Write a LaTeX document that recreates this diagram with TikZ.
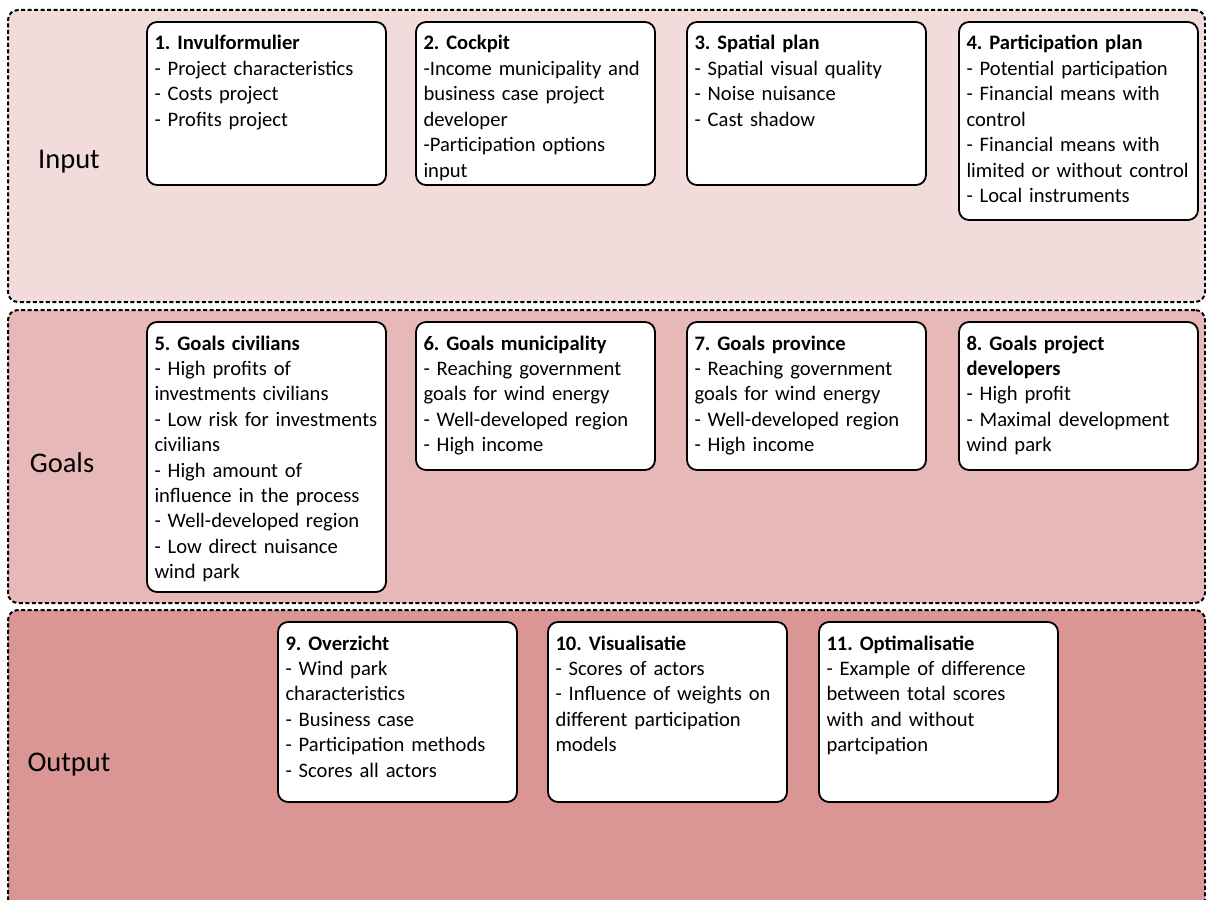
\documentclass[tikz,border=0pt]{standalone}
\usepackage{fontspec}
\setmainfont{Carlito}
\usetikzlibrary{positioning}

\definecolor{inputfill}{HTML}{F2DCDB}
\definecolor{goalsfill}{HTML}{E6B9B8}
\definecolor{outputfill}{HTML}{D99694}

\newcommand{\cardfont}{\fontsize{20.6}{25.4}\selectfont\frenchspacing}

\tikzset{
  band/.style={draw, line width=2pt, dash pattern=on 4pt off 2.5pt,
    rounded corners=10pt, minimum width=1197pt, anchor=north west,
    inner sep=0pt, outer sep=0pt},
  card/.style={draw, fill=white, line width=1.8pt, rounded corners=10pt,
    anchor=north west, text width=224pt, inner xsep=7.5pt, inner ysep=0pt,
    outer sep=0pt, align=left, text height=28pt, text depth=#1, font=\cardfont,
    execute at begin node={\hyphenpenalty=10000\relax\exhyphenpenalty=10000\relax}},
  bandlabel/.style={font=\fontsize{28.5}{30}\selectfont},
}

\begin{document}
\begin{tikzpicture}[x=1pt,y=-1pt]
  \useasboundingbox (0,0) rectangle (1206,899);
  \clip (0,0) rectangle (1206,899);

  % the three layers
  \node[band, fill=inputfill, minimum height=292pt] (inband) at (8,10) {};
  \node[band, fill=goalsfill, minimum height=293pt] (goalband) at (8,310) {};
  \node[band, fill=outputfill, minimum height=300pt] (outband) at (8,610) {};

  \node[bandlabel] (inlabel) at (69,162) {Input};
  \node[bandlabel] (goallabel) at (62,463) {Goals};
  \node[bandlabel] (outlabel) at (69,765) {Output};

  % input
  \node[card=135pt] (c1) at (147,22) {\textbf{1. Invulformulier}\\
    - Project characteristics\\ - Costs project\\ - Profits project};
  \node[card=135pt, right=30pt of c1.north east, anchor=north west] (c2) {\textbf{2. Cockpit}\\
    -Income municipality and\\ business case project\\ developer\\
    -Participation options\\ input};
  \node[card=135pt, right=32pt of c2.north east, anchor=north west] (c3) {\textbf{3. Spatial plan}\\
    - Spatial visual quality\\ - Noise nuisance\\ - Cast shadow};
  \node[card=170pt, right=33pt of c3.north east, anchor=north west] (c4) {\textbf{4. Participation plan}\\
    - Potential participation\\ - Financial means with\\ control\\
    - Financial means with\\ limited or without control\\ - Local instruments};

  % goals
  \node[card=242pt] (c5) at (147,322) {\textbf{5. Goals civilians}\\
    - High profits of\\ investments civilians\\ - Low risk for investments\\ civilians\\
    - High amount of\\ influence in the process\\ - Well-developed region\\
    - Low direct nuisance\\ wind park};
  \node[card=120pt, right=30pt of c5.north east, anchor=north west] (c6) {\textbf{6. Goals municipality}\\
    - Reaching government\\ goals for wind energy\\ - Well-developed region\\ - High income};
  \node[card=120pt, right=32pt of c6.north east, anchor=north west] (c7) {\textbf{7. Goals province}\\
    - Reaching government\\ goals for wind energy\\ - Well-developed region\\ - High income};
  \node[card=120pt, right=33pt of c7.north east, anchor=north west] (c8) {\textbf{8. Goals project}\\
    \textbf{developers}\\ - High profit\\ - Maximal development\\ wind park};

  % output
  \node[card=152pt] (c9) at (278,622) {\textbf{9. Overzicht}\\
    - Wind park\\ characteristics\\ - Business case\\ - Participation methods\\ - Scores all actors};
  \node[card=152pt, right=31pt of c9.north east, anchor=north west] (c10) {\textbf{10. Visualisatie}\\
    - Scores of actors\\ - Influence of weights on\\ different participation\\ models};
  \node[card=152pt, right=32pt of c10.north east, anchor=north west] (c11) {\textbf{11. Optimalisatie}\\
    - Example of difference\\ between total scores\\ with and without\\ partcipation};
\end{tikzpicture}
\end{document}
